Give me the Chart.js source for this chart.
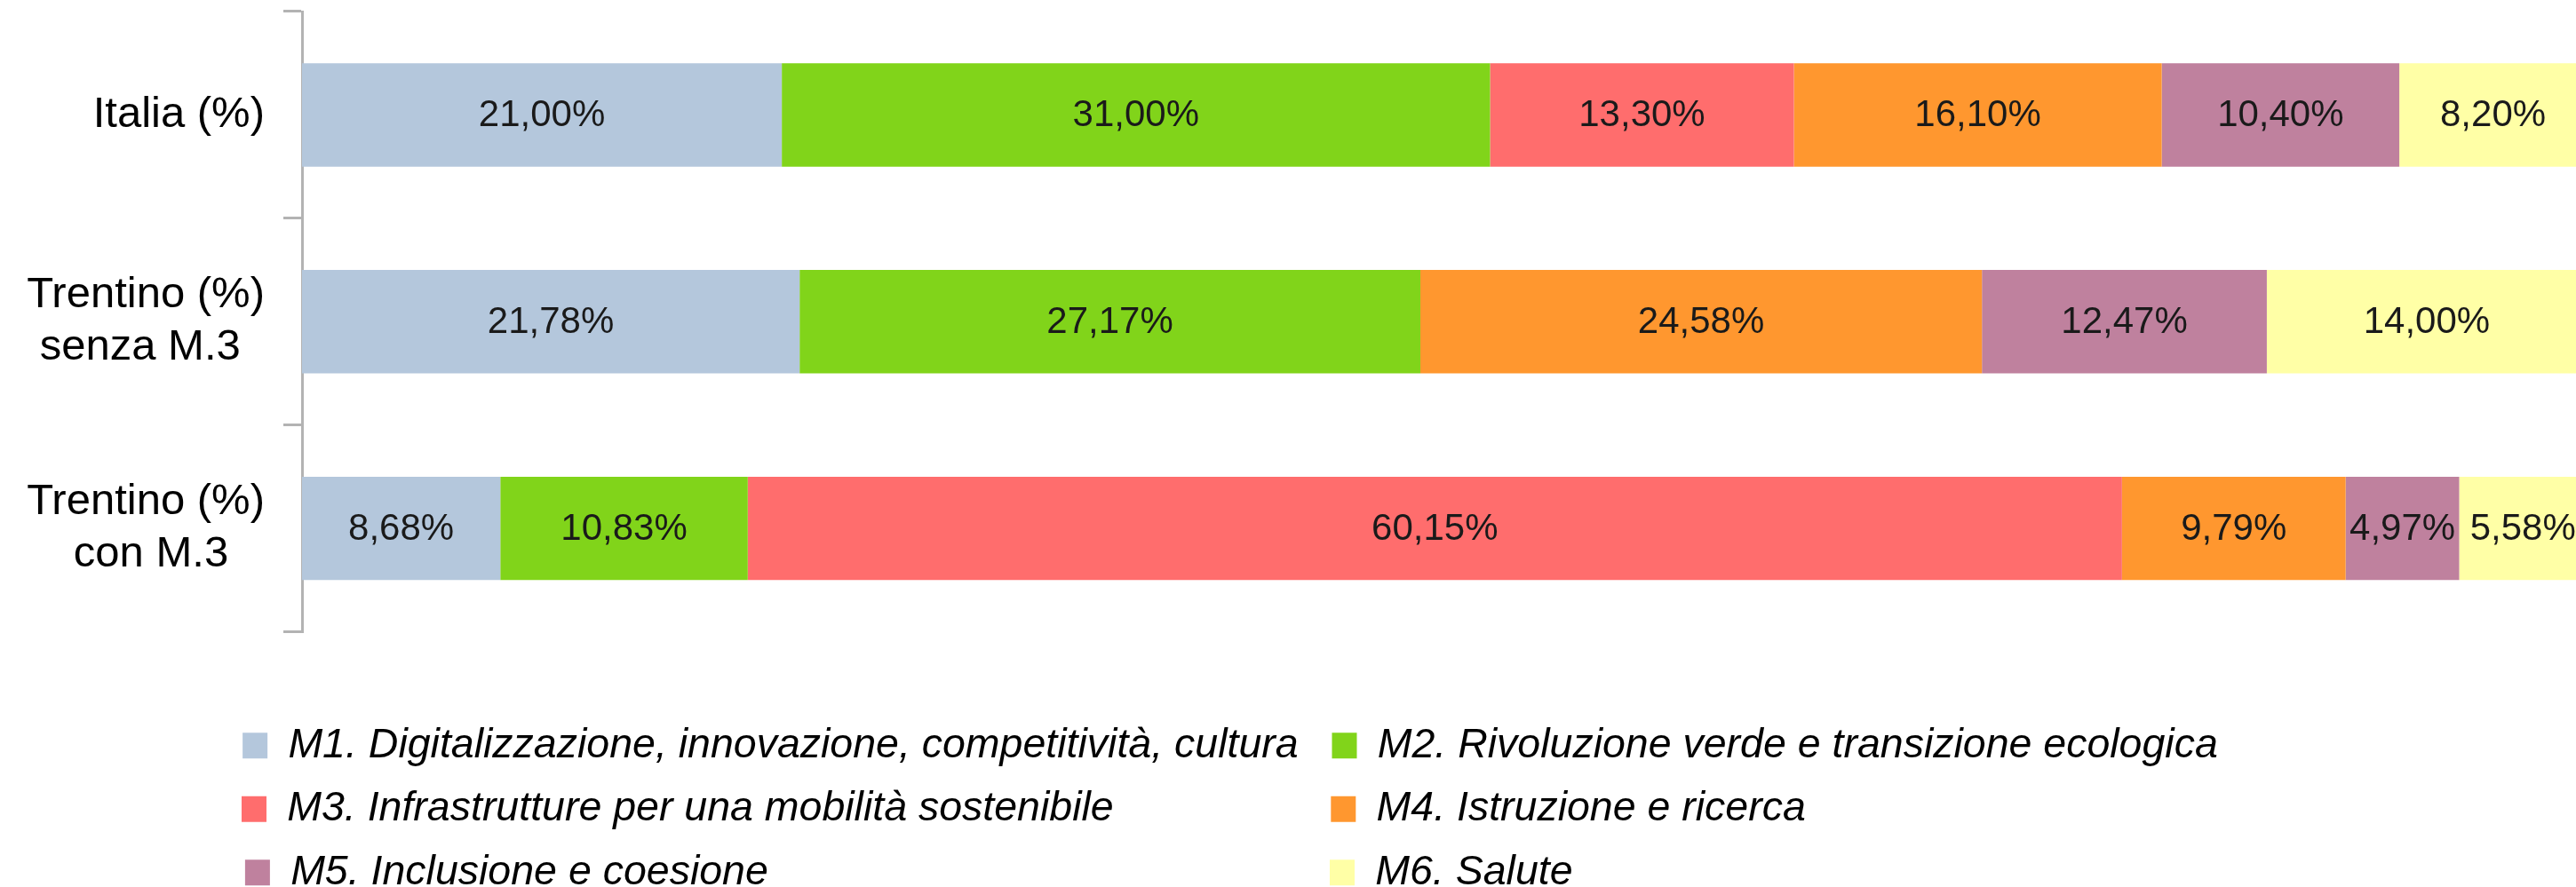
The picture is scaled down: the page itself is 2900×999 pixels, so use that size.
<!DOCTYPE html>
<html>
<head>
<meta charset="utf-8">
<script src="https://cdn.jsdelivr.net/npm/chart.js@4.4.1/dist/chart.umd.min.js"></script>
<style>
  html, body { margin: 0; padding: 0; background: #fff; overflow: hidden; }
  #contenitore { width: 2912px; height: 1016px; }
</style>
</head>
<body>
<div id="contenitore"><canvas id="grafico"></canvas></div>
<script>
// categorie (asse y)
const categorie = [
    ['Italia (%)'],
    ['Trentino (%)', 'senza M.3'],
    ['Trentino (%)', 'con M.3']
];

// nomi delle missioni
const missioni = [
    'M1. Digitalizzazione, innovazione, competitività, cultura',
    'M2. Rivoluzione verde e transizione ecologica',
    'M3. Infrastrutture per una mobilità sostenibile',
    'M4. Istruzione e ricerca',
    'M5. Inclusione e coesione',
    'M6. Salute'
];

// valori in percentuale, uno per categoria
const valoriM1 = [21.00, 21.78, 8.68];
const valoriM2 = [31.00, 27.17, 10.83];
const valoriM3 = [13.30, null, 60.15];
const valoriM4 = [16.10, 24.58, 9.79];
const valoriM5 = [10.40, 12.47, 4.97];
const valoriM6 = [8.20, 14.00, 5.58];

const colori = ['#b4c7dc', '#81d41a', '#ff6d6d', '#ff972f', '#bf819e', '#ffffa6'];

const FONT = '"Liberation Sans", Arial, sans-serif';

// contesto per misurare i testi
const misura = document.createElement('canvas').getContext('2d');

function larghezza(testo, font) {
    misura.font = font;
    return misura.measureText(testo).width;
}

// centra le righe di un'etichetta allineata a destra aggiungendo spazi
function centraRighe(righe) {
    const f = '49px ' + FONT;
    const sp = larghezza(' ', f);
    const max = Math.max(...righe.map(r => larghezza(r, f)));
    return righe.map(r => {
        let n = Math.round((max - larghezza(r, f)) / 2 / sp);
        return r + ' '.repeat(n);
    });
}

// allunga il testo della legenda fino alla larghezza della colonna
const colonneLegenda = [1149, 1088];
function riempi(testo, target) {
    const f = 'italic 46.5px ' + FONT;
    const sp = larghezza(' ', f);
    while (larghezza(testo + ' ', f) <= target + sp / 2) testo += ' ';
    return testo;
}

function formatta(v) {
    return v.toFixed(2).replace('.', ',') + '%';
}

// etichette dei valori al centro di ogni barra
const etichetteValori = {
    id: 'etichetteValori',
    afterDatasetsDraw(chart) {
        const ctx = chart.ctx;
        ctx.save();
        ctx.font = '42px ' + FONT;
        ctx.fillStyle = '#1a1a1a';
        ctx.textAlign = 'center';
        ctx.textBaseline = 'middle';
        chart.data.datasets.forEach((ds, i) => {
            const meta = chart.getDatasetMeta(i);
            meta.data.forEach((bar, j) => {
                const v = ds.data[j];
                if (v == null) return;
                const p = bar.getProps(['x', 'y', 'base'], true);
                ctx.fillText(formatta(v), (p.x + p.base) / 2, p.y + 1);
            });
        });
        ctx.restore();
    }
};

const serie = [valoriM1, valoriM2, valoriM3, valoriM4, valoriM5, valoriM6];

const dati = {
    labels: categorie,
    datasets: serie.map((valori, i) => ({
        label: missioni[i],
        data: valori,
        backgroundColor: colori[i],
        borderWidth: 0,
        barPercentage: 0.5,
        categoryPercentage: 1
    }))
};

new Chart(document.getElementById('grafico'), {
    type: 'bar',
    data: dati,
    plugins: [etichetteValori],
    options: {
        indexAxis: 'y',
        responsive: true,
        maintainAspectRatio: false,
        animation: false,
        devicePixelRatio: 1,
        layout: { padding: { top: 13, left: 0, right: 0, bottom: 0 } },
        scales: {
            x: {
                position: 'bottom',
                stacked: true,
                min: 0,
                max: 100,
                grid: { display: false, drawTicks: false },
                border: { display: false },
                ticks: { display: false },
                afterFit: (scala) => { scala.height = 80; }
            },
            y: {
                stacked: true,
                offset: true,
                grid: {
                    offset: true,
                    drawOnChartArea: false,
                    color: '#b3b3b3',
                    lineWidth: 3,
                    tickLength: 21
                },
                border: { color: '#b3b3b3', width: 3 },
                ticks: {
                    padding: 21,
                    color: '#000',
                    font: { family: FONT, size: 49, lineHeight: 1.2 },
                    callback: function (value) {
                        return centraRighe(this.getLabelForValue(value));
                    }
                },
                afterFit: (scala) => {
                    scala.width = 340;
                    scala.paddingTop = 0;
                    scala.paddingBottom = 0;
                }
            }
        },
        plugins: {
            tooltip: { enabled: false },
            legend: {
                position: 'bottom',
                labels: {
                    boxWidth: 28,
                    boxHeight: 29,
                    padding: 25,
                    color: '#000',
                    font: { family: FONT, size: 46.5, style: 'italic' },
                    generateLabels: function (chart) {
                        const items = Chart.defaults.plugins.legend.labels.generateLabels(chart);
                        items.forEach((it, i) => {
                            it.text = riempi(it.text, colonneLegenda[i % 2]);
                        });
                        return items;
                    }
                }
            }
        }
    }
});
</script>
</body>
</html>
